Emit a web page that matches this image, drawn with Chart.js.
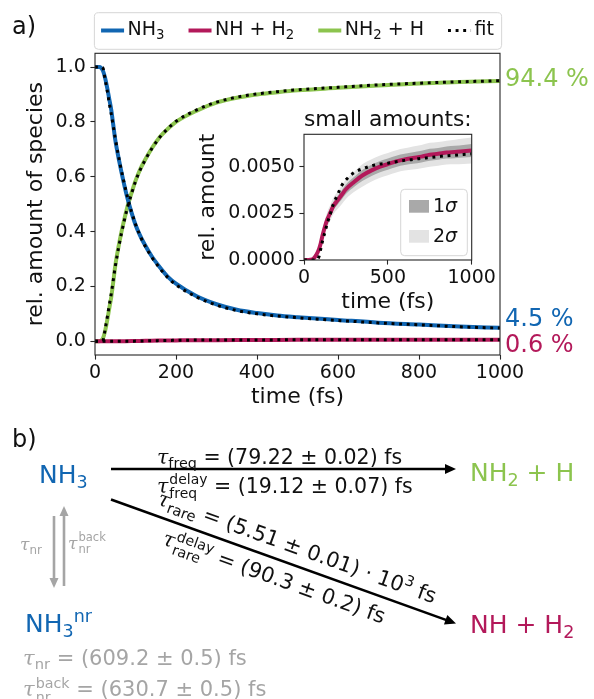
<!DOCTYPE html>
<html><head><meta charset="utf-8">
<script src="https://cdn.jsdelivr.net/npm/chart.js@4.4.1/dist/chart.umd.min.js"></script>
<style>
html,body{margin:0;padding:0;background:#fff;}
#wrap{position:relative;width:594px;height:699px;overflow:hidden;font-family:"DejaVu Sans",sans-serif;color:#111;}
canvas{position:absolute;left:0;top:0;}
.t{position:absolute;white-space:nowrap;line-height:1;}
.tau{font-family:"DejaVu Serif",serif;font-style:italic;}
.sb{font-size:0.7em;vertical-align:-0.3em;line-height:0;}
.sp{font-size:0.7em;vertical-align:0.55em;line-height:0;}
.ss{display:inline-block;vertical-align:middle;font-size:0.68em;line-height:1;margin-left:1px;}
.ss span{display:block;}
svg{position:absolute;left:0;top:0;}
</style></head><body>
<div id="wrap">
<canvas id="main" width="594" height="420"></canvas>
<canvas id="inset" width="594" height="420"></canvas>
<svg id="arrows" width="594" height="699"></svg>

<div class="t" style="left:12px;top:14px;font-size:24px">a)</div>
<div class="t" style="left:12px;top:427px;font-size:24px">b)</div>

<div class="t" id="nh3" style="left:39px;top:462px;font-size:25px">NH<span class="sb">3</span></div>
<div class="t" id="nh2h" style="left:470px;top:460px;font-size:25px">NH<span class="sb">2</span> + H</div>
<div class="t" id="nhh2" style="left:470px;top:612px;font-size:25px">NH + H<span class="sb">2</span></div>
<div class="t" id="nh3nr" style="left:25px;top:611px;font-size:25px">NH<span class="sb">3</span><span class="sp">nr</span></div>

<div class="t" style="left:157px;top:447px;font-size:20.5px"><span class="tau">τ</span><span class="sb">freq</span> = (79.22 ± 0.02) fs</div>
<div class="t" style="left:157px;top:473px;font-size:20.5px"><span class="tau">τ</span><span class="ss"><span>delay</span><span>freq</span></span> = (19.12 ± 0.07) fs</div>

<div class="t" id="rareUp" style="font-size:21px;transform-origin:0 0;"><span class="tau">τ</span><span class="sb">rare</span> = (5.51 ± 0.01) · 10<span class="sp">3</span> fs</div>
<div class="t" id="rareLo" style="font-size:21px;transform-origin:0 0;"><span class="tau">τ</span><span class="ss"><span>delay</span><span>rare</span></span> = (90.3 ± 0.2) fs</div>

<div class="t gray" style="left:20px;top:536px;font-size:17px"><span class="tau">τ</span><span class="sb">nr</span></div>
<div class="t gray" style="left:68px;top:532px;font-size:17px"><span class="tau">τ</span><span class="ss"><span>back</span><span>nr</span></span></div>
<div class="t gray" style="left:23px;top:648px;font-size:21px"><span class="tau">τ</span><span class="sb">nr</span> = (609.2 ± 0.5) fs</div>
<div class="t gray" style="left:23px;top:676px;font-size:21px"><span class="tau">τ</span><span class="ss"><span>back</span><span>nr</span></span> = (630.7 ± 0.5) fs</div>
</div>

<script>
// ---------- colours ----------
const BLUE = '#1166b2', RED = '#b3195a', GREEN = '#8cc44e', GRAY = '#a5a5a5';

// ---------- main panel data ----------
const timeMain = [0,5,10,15,20,25,30,35,40,45,50,60,70,80,90,100,110,120,140,160,180,200,250,300,350,400,450,500,600,700,800,900,1000];
const nh3      = [1.0,1.0,1.0,0.997,0.985,0.96,0.925,0.885,0.845,0.79,0.735,0.655,0.585,0.522,0.47,0.425,0.39,0.36,0.31,0.27,0.235,0.21,0.165,0.135,0.115,0.103,0.094,0.088,0.078,0.068,0.061,0.054,0.049];
const nh2h     = [0,0,0,0.003,0.012,0.038,0.075,0.118,0.16,0.215,0.275,0.36,0.43,0.49,0.54,0.585,0.622,0.652,0.703,0.745,0.775,0.80,0.84,0.87,0.888,0.90,0.908,0.915,0.924,0.933,0.94,0.945,0.949];
const fitNH3   = [1.0,1.0,1.0,1.0,0.995,0.955,0.915,0.87,0.83,0.785,0.74,0.66,0.59,0.527,0.473,0.427,0.39,0.358,0.307,0.266,0.232,0.206,0.162,0.132,0.112,0.100,0.092,0.086,0.076,0.067,0.06,0.053,0.048];
const fitNH2H  = [0,0,0,0,0.004,0.044,0.085,0.13,0.172,0.222,0.272,0.355,0.425,0.487,0.537,0.583,0.62,0.65,0.702,0.744,0.776,0.802,0.843,0.872,0.89,0.902,0.91,0.917,0.926,0.935,0.941,0.946,0.950];

// ---------- small amounts (NH + H2) ----------
const timeSmall = [0,25,50,60,75,90,100,110,125,140,155,175,200,225,250,300,350,400,450,500,550,600,650,700,750,800,850,900,950,1000];
const nhh2      = [0,0,0.00003,0.0001,0.0003,0.0006,0.0009,0.0013,0.0018,0.0022,0.0025,0.0029,0.0032,0.0035,0.0038,0.0042,0.00455,0.0048,0.0050,0.00515,0.0053,0.0054,0.00548,0.00555,0.00565,0.0057,0.00577,0.0058,0.00584,0.00588];
const fitNHH2   = [0,0,0,0,0,0.0002,0.0006,0.001,0.0015,0.002,0.0024,0.003,0.0035,0.0040,0.0043,0.0047,0.0049,0.00505,0.00515,0.0052,0.00528,0.00535,0.0054,0.00546,0.0055,0.00555,0.0056,0.00563,0.00567,0.0057];
const band1Lo   = [0,0,0.00002,0.00008,0.00024,0.0005,0.00078,0.00115,0.00162,0.002,0.00229,0.00268,0.00297,0.00325,0.00354,0.00393,0.00425,0.0045,0.0047,0.00485,0.005,0.0051,0.00517,0.00524,0.00533,0.00538,0.00545,0.00547,0.0055,0.00553];
const band1Hi   = [0,0,0.00004,0.00012,0.00036,0.0007,0.00102,0.00145,0.00198,0.0024,0.00271,0.00312,0.00343,0.00375,0.00406,0.00447,0.00485,0.0051,0.0053,0.00545,0.0056,0.0057,0.00579,0.00586,0.00597,0.00602,0.00609,0.00613,0.00618,0.00623];
const band2Lo   = [0,0,0.00001,0.00006,0.00018,0.0004,0.00066,0.001,0.00144,0.0018,0.00208,0.00246,0.00274,0.003,0.00328,0.00366,0.00395,0.0042,0.0044,0.00455,0.0047,0.0048,0.00486,0.00493,0.00501,0.00506,0.00513,0.00514,0.00516,0.00518];
const band2Hi   = [0,0,0.00005,0.00014,0.00042,0.0008,0.00114,0.0016,0.00216,0.0026,0.00292,0.00334,0.00366,0.004,0.00432,0.00474,0.00515,0.0054,0.0056,0.00575,0.0059,0.006,0.0061,0.00617,0.00629,0.00634,0.00641,0.00646,0.00652,0.00658];

// ---------- ticks & labels ----------
const mainXTicks  = [0,200,400,600,800,1000];
const mainYTicks  = [0,0.2,0.4,0.6,0.8,1.0];
const insetXTicks = [0,500,1000];
const insetYTicks = [0,0.0025,0.005];
const seriesNames = ['NH\u2083','NH + H\u2082','NH\u2082 + H','fit'];
const sigmaNames  = ['1\u03c3','2\u03c3'];
const endLabels   = ['94.4 %','4.5 %','0.6 %'];

function pts(xs, ys){ return xs.map((x,i)=>({x:x, y:ys[i]})); }

Chart.defaults.font.family = '"DejaVu Sans", sans-serif';
Chart.defaults.color = '#111';

const TICK = 4.6, FONT_T = 19, FONT_L = 22;
const SUBS = {'\u2080':'0','\u2081':'1','\u2082':'2','\u2083':'3'};

function richParts(txt){
  const out=[]; for(const ch of txt){ const sub = SUBS[ch]!==undefined; const c = sub?SUBS[ch]:ch;
    if(out.length && out[out.length-1].sub===sub) out[out.length-1].t+=c; else out.push({t:c, sub}); } return out; }
function richWidth(ctx, txt, size){ let w=0; richParts(txt).forEach(p=>{ ctx.font=(p.sub?size*0.7:size)+'px "DejaVu Sans"'; w+=ctx.measureText(p.t).width; }); return w; }
function richDraw(ctx, txt, x, y, size){ richParts(txt).forEach(p=>{ const s=p.sub?size*0.7:size; ctx.font=s+'px "DejaVu Sans"';
  ctx.fillText(p.t, x, p.sub? y+size*0.28 : y); x+=ctx.measureText(p.t).width; }); }

const framePlugin = {id:'frame', afterDraw(c){
  const a=c.chartArea, ctx=c.ctx; ctx.save(); ctx.strokeStyle='#262626'; ctx.lineWidth=1.1;
  ctx.strokeRect(a.left, a.top, a.right-a.left, a.bottom-a.top); ctx.restore(); }};

const mainLegend = {id:'mainLegend', afterDraw(c){
  const ctx=c.ctx, a=c.chartArea, ds=c.data.datasets.slice(0,4);
  const HL=23, GAP=3.5, COL=24, cy=30.5;
  ctx.save();
  const widths = ds.map(d=>richWidth(ctx, d.label, FONT_T));
  const total = widths.reduce((s,w)=>s+HL+GAP+w,0) + COL*(ds.length-1);
  let x = (a.left+a.right)/2 - total/2;
  const x0 = x-6.7, x1 = x+total+7.7;
  ctx.beginPath(); ctx.roundRect(x0, 12.7, x1-x0, 36.6, 4); ctx.fillStyle='#fff'; ctx.fill();
  ctx.strokeStyle='#d6d6d6'; ctx.lineWidth=1; ctx.stroke();
  ds.forEach((d,i)=>{
    ctx.beginPath(); ctx.setLineDash(d.borderDash||[]); ctx.lineCap='butt';
    ctx.strokeStyle=d.borderColor; ctx.lineWidth=d.borderWidth;
    ctx.moveTo(x, cy); ctx.lineTo(x+HL, cy); ctx.stroke(); ctx.setLineDash([]);
    ctx.fillStyle='#111'; ctx.textBaseline='middle'; ctx.textAlign='left';
    richDraw(ctx, d.label, x+HL+GAP, cy, FONT_T);
    x += HL+GAP+widths[i]+COL;
  });
  ctx.restore(); }};

const endLabelPlugin = {id:'endLabels', afterDraw(c){
  const ctx=c.ctx, a=c.chartArea, ys=c.scales.y;
  const spec=[[endLabels[0],GREEN,nh2h[nh2h.length-1],-1.5],[endLabels[1],BLUE,nh3[nh3.length-1],-8],[endLabels[2],RED,nhh2[nhh2.length-1],6]];
  ctx.save(); ctx.font='24px "DejaVu Sans"'; ctx.textBaseline='middle'; ctx.textAlign='left';
  spec.forEach(s=>{ ctx.fillStyle=s[1]; ctx.fillText(s[0], a.right+5, ys.getPixelForValue(s[2])+s[3]); });
  ctx.restore(); }};

const lineDs = (label, xs, ys, color, order) => ({label, data:pts(xs,ys), borderColor:color, backgroundColor:color,
  borderWidth:4, pointRadius:0, cubicInterpolationMode:'monotone', fill:false, order});
const fitDs = (label, xs, ys) => ({label, data:pts(xs,ys), borderColor:'#000', backgroundColor:'#000',
  borderWidth:3, borderDash:[2.9,4.7], pointRadius:0, cubicInterpolationMode:'monotone', fill:false, order:0});

new Chart(document.getElementById('main'), {
  type:'line',
  data:{datasets:[
    lineDs(seriesNames[0], timeMain, nh3, BLUE, 1),
    lineDs(seriesNames[1], timeSmall, nhh2, RED, 2),
    lineDs(seriesNames[2], timeMain, nh2h, GREEN, 3),
    fitDs(seriesNames[3], timeMain, fitNH3),
    fitDs('fit2', timeSmall, fitNHH2),
    fitDs('fit3', timeMain, fitNH2H)
  ]},
  options:{
    responsive:false, animation:false, devicePixelRatio:1,
    layout:{autoPadding:false, padding:{left:0,right:94,top:0,bottom:5}},
    plugins:{ tooltip:{enabled:false}, legend:{display:false} },
    scales:{
      x:{type:'linear', min:0, max:1000,
        afterBuildTicks:s=>{ s.ticks = mainXTicks.map(v=>({value:v})); },
        afterFit:s=>{ s.height=60; },
        grid:{display:true, drawOnChartArea:false, drawTicks:true, tickLength:TICK, color:'#262626', tickWidth:1.1},
        border:{display:false},
        ticks:{font:{size:FONT_T}, color:'#111', padding:2, maxRotation:0, autoSkip:false, callback:v=>String(v)},
        title:{display:true, text:'time (fs)', font:{size:FONT_L}, color:'#111', padding:{top:0,bottom:4.8}}},
      xTop:{type:'linear', position:'top', display:true, grid:{display:false}, border:{display:false},
        ticks:{display:false}, afterFit:s=>{ s.height=53.3; }},
      y:{type:'linear', min:-0.05, max:1.05,
        afterBuildTicks:s=>{ s.ticks = mainYTicks.map(v=>({value:v})); },
        afterFit:s=>{ s.width=95; },
        grid:{display:true, drawOnChartArea:false, drawTicks:true, tickLength:TICK, color:'#262626', tickWidth:1.1},
        border:{display:false},
        ticks:{font:{size:FONT_T}, color:'#111', padding:TICK, autoSkip:false, callback:v=>v.toFixed(1)},
        title:{display:true, text:'rel. amount of species', font:{size:FONT_L}, color:'#111', padding:{top:22.8,bottom:0}}}
    }
  },
  plugins:[framePlugin, mainLegend, endLabelPlugin]
});

// ---------- inset ----------
const whiteArea = {id:'whiteArea', beforeDraw(c){ const a=c.chartArea, ctx=c.ctx; ctx.save(); ctx.fillStyle='#fff';
  ctx.fillRect(a.left,a.top,a.right-a.left,a.bottom-a.top); ctx.restore(); }};
const sigmaLegend = {id:'sigmaLegend', afterDraw(c){
  const ctx=c.ctx, a=c.chartArea, w=66.6, h=66.4, x0=a.right-4.4-w, y0=a.bottom-4.3-h;
  ctx.save(); ctx.beginPath(); ctx.roundRect(x0,y0,w,h,4); ctx.fillStyle='rgba(255,255,255,0.85)'; ctx.fill();
  ctx.strokeStyle='#d6d6d6'; ctx.lineWidth=1; ctx.stroke();
  [c.data.datasets[2], c.data.datasets[0]].forEach((ds,i)=>{
    const py=y0+10.7+i*30; ctx.fillStyle=ds.backgroundColor; ctx.fillRect(x0+8.3,py,20,12.7);
    const ty=py+6.6; ctx.fillStyle='#111'; ctx.textBaseline='middle'; ctx.textAlign='left';
    ctx.font='19px "DejaVu Sans"'; const d=ds.label.charAt(0); ctx.fillText(d, x0+32.3, ty);
    const wd=ctx.measureText(d).width; ctx.font='italic 19px "DejaVu Sans"'; ctx.fillText(ds.label.slice(1), x0+32.3+wd, ty);
  });
  ctx.restore(); }};

new Chart(document.getElementById('inset'), {
  type:'line',
  data:{datasets:[
    {label:sigmaNames[1], data:pts(timeSmall,band2Hi), borderWidth:0, pointRadius:0, backgroundColor:'#e3e3e3', fill:'+1', order:5, cubicInterpolationMode:'monotone'},
    {label:'lo2', data:pts(timeSmall,band2Lo), borderWidth:0, pointRadius:0, backgroundColor:'#e3e3e3', fill:false, order:5, cubicInterpolationMode:'monotone'},
    {label:sigmaNames[0], data:pts(timeSmall,band1Hi), borderWidth:0, pointRadius:0, backgroundColor:'#a9a9a9', fill:'+1', order:4, cubicInterpolationMode:'monotone'},
    {label:'lo1', data:pts(timeSmall,band1Lo), borderWidth:0, pointRadius:0, backgroundColor:'#a9a9a9', fill:false, order:4, cubicInterpolationMode:'monotone'},
    lineDs(seriesNames[1], timeSmall, nhh2, RED, 1),
    fitDs('fit', timeSmall, fitNHH2)
  ]},
  options:{
    responsive:false, animation:false, devicePixelRatio:1,
    layout:{autoPadding:false, padding:{left:194,right:122.3,top:106.8,bottom:100}},
    plugins:{ tooltip:{enabled:false}, legend:{display:false},
      title:{display:true, text:'small amounts:', fullSize:false, font:{size:FONT_L, weight:'normal'}, color:'#111', padding:{top:0,bottom:1.1}}},
    scales:{
      x:{type:'linear', min:0, max:1000,
        afterBuildTicks:s=>{ s.ticks = insetXTicks.map(v=>({value:v})); },
        afterFit:s=>{ s.height=60; },
        grid:{display:true, drawOnChartArea:false, drawTicks:true, tickLength:TICK, color:'#262626', tickWidth:1.1},
        border:{display:false},
        ticks:{font:{size:FONT_T}, color:'#111', padding:2, maxRotation:0, autoSkip:false, callback:v=>String(v)},
        title:{display:true, text:'time (fs)', font:{size:FONT_L}, color:'#111', padding:{top:0,bottom:4.8}}},
      y:{type:'linear', min:0, max:0.00675,
        afterBuildTicks:s=>{ s.ticks = insetYTicks.map(v=>({value:v})); },
        afterFit:s=>{ s.width=110; },
        grid:{display:true, drawOnChartArea:false, drawTicks:true, tickLength:TICK, color:'#262626', tickWidth:1.1},
        border:{display:false},
        ticks:{font:{size:FONT_T}, color:'#111', padding:TICK, autoSkip:false, callback:v=>v.toFixed(4)},
        title:{display:true, text:'rel. amount', font:{size:FONT_L}, color:'#111', padding:{top:0.8,bottom:0}}}
    }
  },
  plugins:[whiteArea, framePlugin, sigmaLegend]
});

// ---------- scheme (part b) ----------
document.getElementById('nh3').style.color = BLUE;
document.getElementById('nh3nr').style.color = BLUE;
document.getElementById('nh2h').style.color = GREEN;
document.getElementById('nhh2').style.color = RED;
document.querySelectorAll('.gray').forEach(e=>e.style.color = GRAY);

const svg = document.getElementById('arrows');
function arrow(x1,y1,x2,y2,color,lw,hl,hw){
  const ang=Math.atan2(y2-y1,x2-x1), c=Math.cos(ang), s=Math.sin(ang);
  const bx=x2-hl*c, by=y2-hl*s;
  const ln=document.createElementNS('http://www.w3.org/2000/svg','line');
  ln.setAttribute('x1',x1); ln.setAttribute('y1',y1); ln.setAttribute('x2',bx+1*c); ln.setAttribute('y2',by+1*s);
  ln.setAttribute('stroke',color); ln.setAttribute('stroke-width',lw); svg.appendChild(ln);
  const p=document.createElementNS('http://www.w3.org/2000/svg','polygon');
  p.setAttribute('points',`${x2},${y2} ${bx - hw*s},${by + hw*c} ${bx + hw*s},${by - hw*c}`);
  p.setAttribute('fill',color); svg.appendChild(p);
}
arrow(111,469,456,469,'#000',2.6,11,5);
arrow(111,499.5,456,623.5,'#000',2.6,11,5);
arrow(54,516,54,588,GRAY,2.6,10,4.5);
arrow(64,586,64,506,GRAY,2.6,10,4.5);

const th = Math.atan2(623.5-499.5, 456-111);
function placeRot(id, px, py){
  const e=document.getElementById(id); const fs=21, cy=0.48*fs;
  e.style.left=(px + cy*Math.sin(th))+'px'; e.style.top=(py - cy*Math.cos(th))+'px';
  e.style.transform='rotate('+(th*180/Math.PI)+'deg)';
}
placeRot('rareUp', 159, 497.5);
placeRot('rareLo', 165, 534);
</script>
</body></html>
